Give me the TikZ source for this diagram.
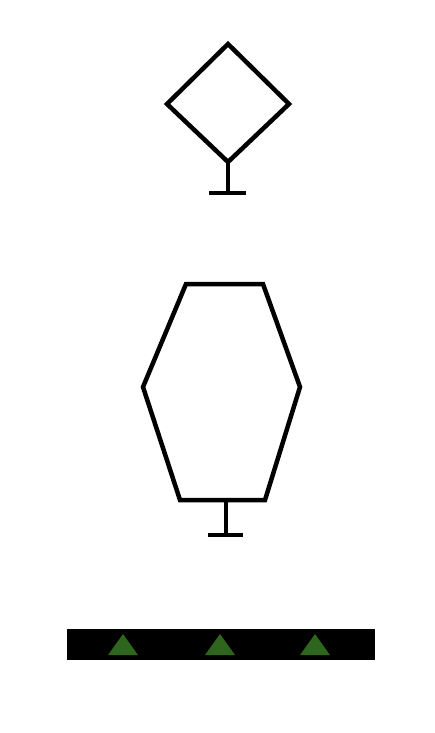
\documentclass[tikz,border=0pt]{standalone}
\usepackage{tikz}
\usetikzlibrary{positioning}

\definecolor{leafgreen}{RGB}{46,102,30}

\begin{document}
\begin{tikzpicture}[
  x=1pt, y=-1pt,
  outline/.style={draw=black, line width=4.5pt, line join=miter},
  stem/.style={draw=black, line width=4.5pt},
  ground/.style={fill=black},
  marker/.style={fill=leafgreen}
]
\useasboundingbox (0,0) rectangle (434,733);

% diamond with foot
\coordinate (dtop) at (228,44);
\coordinate (dright) at (289,104);
\coordinate (dbot) at (228,162);
\coordinate (dleft) at (167,104);
\coordinate (dfoot) at (228,193);
\draw[outline] (dtop) -- (dright) -- (dbot) -- (dleft) -- cycle;
\draw[stem] (dbot) -- (dfoot);
\draw[stem] ([xshift=-19pt]dfoot) -- ([xshift=18pt]dfoot);

% hexagon with foot
\coordinate (htl) at (186,284);
\coordinate (htr) at (263,284);
\coordinate (hr) at (300,387);
\coordinate (hbr) at (265,500);
\coordinate (hbl) at (180,500);
\coordinate (hl) at (143,387);
\coordinate (hfoot) at (226,535);
\draw[outline] (htl) -- (htr) -- (hr) -- (hbr) -- (hbl) -- (hl) -- cycle;
\draw[stem] (226,500) -- (hfoot);
\draw[stem] ([xshift=-18pt]hfoot) -- ([xshift=17pt]hfoot);

% base strip
\fill[ground] (67,629) rectangle (375,660);
\foreach \cx in {123,220,315}
  \fill[marker] (\cx-15,655) -- (\cx,634) -- (\cx+15,655) -- cycle;

\end{tikzpicture}
\end{document}
